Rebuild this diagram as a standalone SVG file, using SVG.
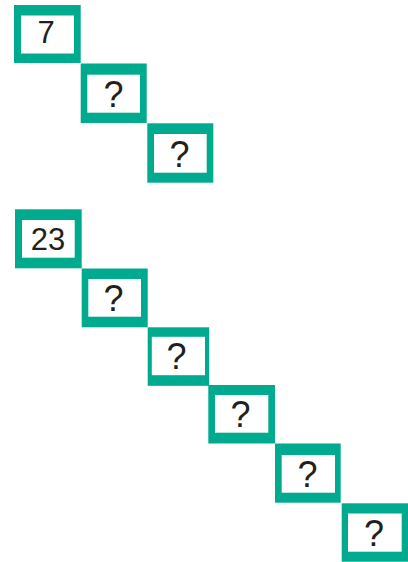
<svg xmlns="http://www.w3.org/2000/svg" width="408" height="562" viewBox="0 0 408 562">
<style>
.o{fill:#00AA8E}
.i{fill:#ffffff}
.t{font-family:"Liberation Sans",Arial,sans-serif;fill:#231F20;text-anchor:middle}
.q{font-size:36px}
.n{font-size:31px}
</style>
<rect width="408" height="562" fill="#ffffff"/>
<g id="connectors"></g>
<g id="n7"><rect class="o" x="14" y="5" width="66.7" height="58"/><rect class="i" x="21" y="15.5" width="53" height="38"/><text class="t n" x="46" y="43.3">7</text></g>
<g id="q1"><rect class="o" x="80.7" y="63.5" width="66" height="59.5"/><rect class="i" x="87.3" y="74.7" width="52.7" height="38"/><text class="t q" x="113.5" y="107">?</text></g>
<g id="q2"><rect class="o" x="147.3" y="123.3" width="66" height="59.4"/><rect class="i" x="154" y="134" width="52.7" height="38.7"/><text class="t q" x="179.5" y="167">?</text></g>
<g id="n23"><rect class="o" x="15" y="209.3" width="66.7" height="59"/><rect class="i" x="22" y="220" width="52.7" height="37.7"/><text class="t n" x="48" y="250">23</text></g>
<g id="q3"><rect class="o" x="81.7" y="268.5" width="66" height="58.8"/><rect class="i" x="88.3" y="279" width="52.7" height="37.7"/><text class="t q" x="113.5" y="310.5">?</text></g>
<g id="q4"><rect class="o" x="147.7" y="327.3" width="61.5" height="58.5"/><rect class="i" x="151.8" y="336.8" width="53.2" height="38.4"/><text class="t q" x="176.5" y="369">?</text></g>
<g id="q5"><rect class="o" x="208.3" y="385" width="66.7" height="58.5"/><rect class="i" x="215" y="395" width="53.3" height="37.7"/><text class="t q" x="240.5" y="426.5">?</text></g>
<g id="q6"><rect class="o" x="275" y="443.5" width="65.7" height="59.2"/><rect class="i" x="281.7" y="455" width="53.3" height="37.7"/><text class="t q" x="307.5" y="486.5">?</text></g>
<g id="q7"><rect class="o" x="341.7" y="503.3" width="66.3" height="58.4"/><rect class="i" x="348" y="513.5" width="53.7" height="38.2"/><text class="t q" x="374" y="546">?</text></g>
</svg>
